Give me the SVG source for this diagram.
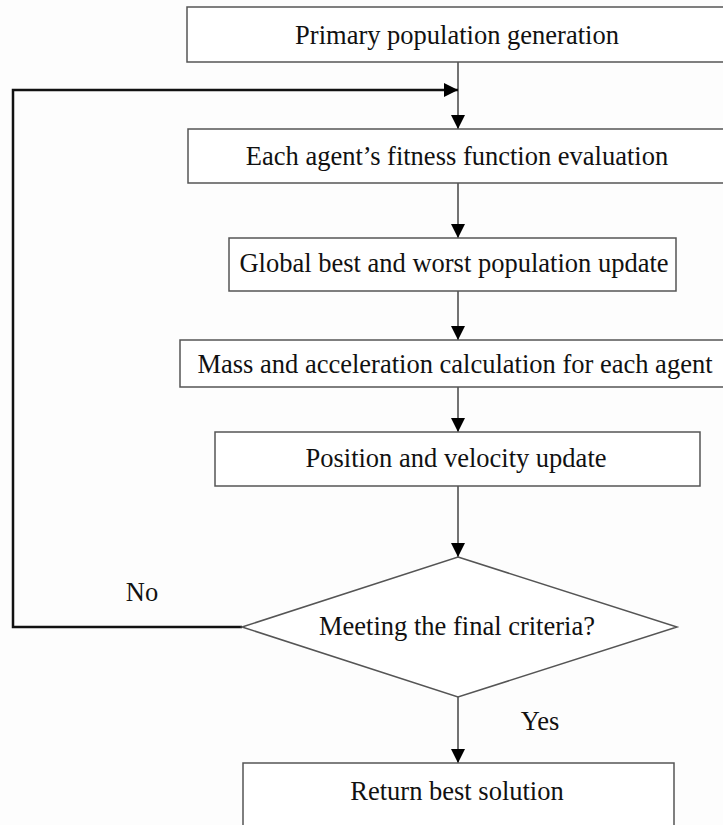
<svg xmlns="http://www.w3.org/2000/svg" width="723" height="825" viewBox="0 0 723 825">
<style>
.box{fill:#fff;stroke:#555;stroke-width:1.5}
.t{font-family:"Liberation Serif","Times New Roman",serif;font-size:26.5px;fill:#111;text-anchor:middle}
.c{fill:none;stroke:#444;stroke-width:1.5}
.fb{fill:none;stroke:#111;stroke-width:2.5}
</style>
<defs>
<marker id="ah" markerWidth="14" markerHeight="14" viewBox="0 0 14 14" refX="14" refY="7" orient="auto" markerUnits="userSpaceOnUse">
<path d="M0,0 L14,7 L0,14 Z" fill="#000"/>
</marker>
</defs>
<rect width="723" height="825" fill="#fdfdfd"/>
<g id="connectors">
<path class="c" d="M458,62 V129" marker-end="url(#ah)"/>
<path class="fb" d="M242,627 H13 V90 H458" marker-end="url(#ah)"/>
<path class="c" d="M458,183 V238" marker-end="url(#ah)"/>
<path class="c" d="M458,291 V340" marker-end="url(#ah)"/>
<path class="c" d="M458,387 V432" marker-end="url(#ah)"/>
<path class="c" d="M458,486 V557" marker-end="url(#ah)"/>
<path class="c" d="M458,697 V763" marker-end="url(#ah)"/>
<text class="t" x="142" y="601">No</text>
<text class="t" x="540" y="730">Yes</text>
</g>
<g id="n1"><rect class="box" x="187" y="7" width="545" height="55"/><text class="t" x="457" y="44">Primary population generation</text></g>
<g id="n2"><rect class="box" x="188" y="129" width="545" height="54"/><text class="t" x="457" y="165">Each agent’s fitness function evaluation</text></g>
<g id="n3"><rect class="box" x="229" y="238" width="447" height="53"/><text class="t" x="454" y="272">Global best and worst population update</text></g>
<g id="n4"><rect class="box" x="180" y="340" width="550" height="47"/><text class="t" x="455" y="373">Mass and acceleration calculation for each agent</text></g>
<g id="n5"><rect class="box" x="215" y="432" width="485" height="54"/><text class="t" x="456" y="467">Position and velocity update</text></g>
<g id="n6"><polygon class="box" points="458,557 677,627 458,697 242,627"/><text class="t" x="457" y="635">Meeting the final criteria?</text></g>
<g id="n7"><rect class="box" x="243" y="763" width="431" height="80"/><text class="t" x="457" y="800">Return best solution</text></g>
</svg>
